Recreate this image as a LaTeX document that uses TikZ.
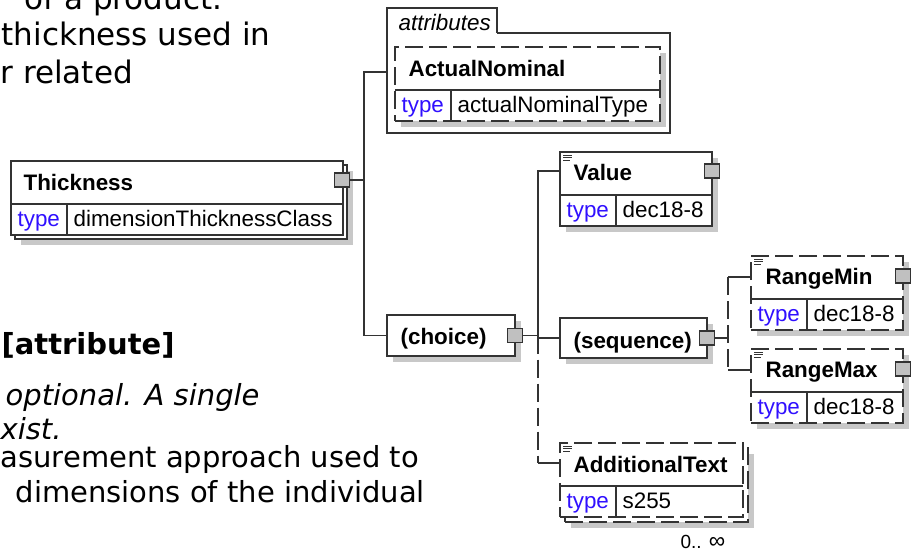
\documentclass[tikz,border=0pt]{standalone}
\usepackage{fontspec}
\setmainfont{Liberation Sans}
\newfontfamily\descfont{DejaVu Sans}[BoldFont={DejaVu Sans Bold}, ItalicFont={DejaVu Sans Oblique}]
\usepackage{xcolor}
\usepackage{tikz}
\usetikzlibrary{positioning, shadows}

\definecolor{edge}{RGB}{51,51,51}
\definecolor{btnfill}{RGB}{192,192,192}
\definecolor{shade}{RGB}{200,200,200}
\definecolor{typeblue}{RGB}{48,16,255}

\tikzset{docmark/.pic={\draw[edge, line width=0.8pt] (0,0) -- (9,0) (0,2.5) -- (9,2.5) (0,5) -- (7,5);}}

\begin{document}
\begin{tikzpicture}[x=1pt, y=-1pt, line width=1.2pt,
    elem/.style={draw=edge, fill=white, inner sep=0pt, outer sep=0pt, anchor=north west, minimum height=74pt},
    opt/.style={dash pattern=on 18pt off 6pt},
    shaded/.style={drop shadow={shadow xshift=6pt, shadow yshift=-6pt, fill=shade, opacity=1}},
    btn/.style={draw=edge, fill=btnfill, minimum width=15pt, minimum height=14pt, inner sep=0pt, outer sep=0pt},
    nm/.style={anchor=base west, inner sep=0pt, font=\bfseries\fontsize{22.4}{26}\selectfont},
    key/.style={anchor=base west, inner sep=0pt, text=typeblue, font=\fontsize{22.4}{26}\selectfont},
    val/.style={anchor=base west, inner sep=0pt, font=\fontsize{22.4}{26}\selectfont},
    desc/.style={anchor=base west, inner sep=0pt, font=\descfont\fontsize{29}{35}\selectfont}]
    \useasboundingbox (0,0) rectangle (911,552);
    \clip (0,0) rectangle (911,552);

    % description text
    \node[desc, font=\descfont\fontsize{31}{37}\selectfont] (d1) at (24,9) {of a product.};
    \node[desc, font=\descfont\fontsize{31}{37}\selectfont] (d2) at (1,45) {thickness used in};
    \node[desc, font=\descfont\fontsize{31}{37}\selectfont] (d3) at (0,83) {r related};
    \node[desc, font=\descfont\bfseries\fontsize{29}{34}\selectfont] (d4) at (1,354) {[attribute]};
    \node[desc, font=\descfont\itshape\fontsize{29}{35}\selectfont] (d5) at (5,405) {optional. A single};
    \node[desc, font=\descfont\itshape\fontsize{29}{35}\selectfont] (d6) at (0,439) {xist.};
    \node[desc] (d7) at (0,467) {asurement approach used to};
    \node[desc] (d8) at (15,502) {dimensions of the individual};

    % Thickness
    \node[elem, shaded, minimum width=332pt] (thk-bk) at (15,165) {};
    \node[elem, minimum width=332pt] (thk) at (11,161) {};
    \draw[edge] ([yshift=31pt]thk.south west) -- ([yshift=31pt]thk.south east)
                ([xshift=56pt]thk.south west) -- ([xshift=56pt,yshift=31pt]thk.south west);
    \node[nm] (thk-n) at ([xshift=12pt,yshift=-29pt]thk.north west) {Thickness};
    \node[key] (thk-k) at ([xshift=6pt,yshift=-65pt]thk.north west) {type};
    \node[val] (thk-v) at ([xshift=62pt,yshift=-65pt]thk.north west) {dimensionThicknessClass};
    \node[btn] (thk-b) at ([xshift=-1pt,yshift=-19pt]thk.north east) {};

    % attributes
    \node[inner sep=0pt, outer sep=0pt, anchor=north west, minimum width=110pt, minimum height=25pt] (attrtab) at (387,8) {};
    \node[inner sep=0pt, outer sep=0pt, anchor=north west, minimum width=283pt, minimum height=100pt] (attrs) at (387,33) {};
    \draw[edge] (attrtab.south east) -| (attrs.south east) -| (attrtab.north west) -| (attrtab.south east);
    \node[anchor=base west, inner sep=0pt, font=\itshape\fontsize{22.4}{26}\selectfont] (attrtab-t) at ([xshift=11pt,yshift=-22pt]attrtab.north west) {attributes};

    % ActualNominal
    \node[elem, opt, shaded, minimum width=265pt] (an) at (395,47) {};
    \draw[edge] ([yshift=31pt]an.south west) -- ([yshift=31pt]an.south east)
                ([xshift=56pt]an.south west) -- ([xshift=56pt,yshift=31pt]an.south west);
    \node[nm] (an-n) at ([xshift=13pt,yshift=-29pt]an.north west) {ActualNominal};
    \node[key] (an-k) at ([xshift=6pt,yshift=-65pt]an.north west) {type};
    \node[val] (an-v) at ([xshift=62pt,yshift=-65pt]an.north west) {actualNominalType};

    % choice
    \node[elem, shaded, minimum width=128pt, minimum height=41pt] (cho) at (387,315) {};
    \node[nm] (cho-n) at ([xshift=13pt,yshift=-29pt]cho.north west) {(choice)};
    \node[btn] (cho-b) at (cho.east) {};

    % Value
    \node[elem, shaded, minimum width=152pt] (val) at (560,152) {};
    \draw[edge] ([yshift=31pt]val.south west) -- ([yshift=31pt]val.south east)
                ([xshift=56pt]val.south west) -- ([xshift=56pt,yshift=31pt]val.south west);
    \node[nm] (val-n) at ([xshift=13pt,yshift=-28pt]val.north west) {Value};
    \node[key] (val-k) at ([xshift=6pt,yshift=-65pt]val.north west) {type};
    \node[val] (val-v) at ([xshift=62pt,yshift=-65pt]val.north west) {dec18-8};
    \node[btn] (val-b) at ([yshift=-19pt]val.north east) {};
    \pic at ([xshift=3pt,yshift=-3pt]val.north west) {docmark};

    % sequence
    \node[elem, shaded, minimum width=147pt, minimum height=40pt] (seq) at (560,318) {};
    \node[nm] (seq-n) at ([xshift=13pt,yshift=-30pt]seq.north west) {(sequence)};
    \node[btn] (seq-b) at (seq.east) {};

    % RangeMin
    \node[elem, opt, shaded, minimum width=152pt] (rmin) at (751,256) {};
    \draw[edge] ([yshift=31pt]rmin.south west) -- ([yshift=31pt]rmin.south east)
                ([xshift=56pt]rmin.south west) -- ([xshift=56pt,yshift=31pt]rmin.south west);
    \node[nm] (rmin-n) at ([xshift=14pt,yshift=-28pt]rmin.north west) {RangeMin};
    \node[key] (rmin-k) at ([xshift=6pt,yshift=-65pt]rmin.north west) {type};
    \node[val] (rmin-v) at ([xshift=62pt,yshift=-65pt]rmin.north west) {dec18-8};
    \node[btn] (rmin-b) at ([yshift=-20pt]rmin.north east) {};
    \pic at ([xshift=3pt,yshift=-3pt]rmin.north west) {docmark};

    % RangeMax
    \node[elem, opt, shaded, minimum width=152pt] (rmax) at (751,349) {};
    \draw[edge] ([yshift=31pt]rmax.south west) -- ([yshift=31pt]rmax.south east)
                ([xshift=56pt]rmax.south west) -- ([xshift=56pt,yshift=31pt]rmax.south west);
    \node[nm] (rmax-n) at ([xshift=14pt,yshift=-28pt]rmax.north west) {RangeMax};
    \node[key] (rmax-k) at ([xshift=6pt,yshift=-65pt]rmax.north west) {type};
    \node[val] (rmax-v) at ([xshift=62pt,yshift=-65pt]rmax.north west) {dec18-8};
    \node[btn] (rmax-b) at ([yshift=-20pt]rmax.north east) {};
    \pic at ([xshift=3pt,yshift=-3pt]rmax.north west) {docmark};

    % AdditionalText
    \node[elem, opt, shaded, minimum width=183pt] (add-bk) at (565,448) {};
    \node[elem, opt, minimum width=183pt] (add) at (560,443) {};
    \draw[edge] ([yshift=31pt]add.south west) -- ([yshift=31pt]add.south east)
                ([xshift=56pt]add.south west) -- ([xshift=56pt,yshift=31pt]add.south west);
    \node[nm] (add-n) at ([xshift=13pt,yshift=-29pt]add.north west) {AdditionalText};
    \node[key] (add-k) at ([xshift=6pt,yshift=-65pt]add.north west) {type};
    \node[val] (add-v) at ([xshift=62pt,yshift=-65pt]add.north west) {s255};
    \pic at ([xshift=3pt,yshift=-3pt]add.north west) {docmark};
    \node[anchor=base west, inner sep=0pt, font=\fontsize{19}{22}\selectfont] (add-occ) at ([xshift=-63pt,yshift=-31pt]add.south east) {0.. \fontsize{23}{22}\selectfont∞};

    % connectors
    \coordinate (j1) at (364,180);
    \coordinate (j2) at (538,335.5);
    \coordinate (j3) at (728,338);
    \coordinate (add-in) at ([yshift=-20pt]add.north west);
    \coordinate (rmin-in) at ([yshift=-21pt]rmin.north west);
    \coordinate (rmax-in) at ([yshift=-21pt]rmax.north west);

    \draw[edge] (thk-b.east) -- (j1);
    \draw[edge] (j1) |- ([yshift=11pt]attrs.west);
    \draw[edge] (j1) |- (cho.west);
    \draw[edge] (cho-b.east) -- (j2);
    \draw[edge] (j2) |- ([yshift=-19pt]val.north west);
    \draw[edge] (j2) |- (seq.west);
    \draw[edge, opt] (j2) -- (j2 |- add-in);
    \draw[edge] (j2 |- add-in) -- (add-in);
    \draw[edge] (seq-b.east) -- (j3);
    \draw[edge, opt] (j3 |- rmin-in) -- (j3 |- rmax-in);
    \draw[edge] (j3 |- rmin-in) -- (rmin-in) (j3 |- rmax-in) -- (rmax-in);
\end{tikzpicture}
\end{document}
